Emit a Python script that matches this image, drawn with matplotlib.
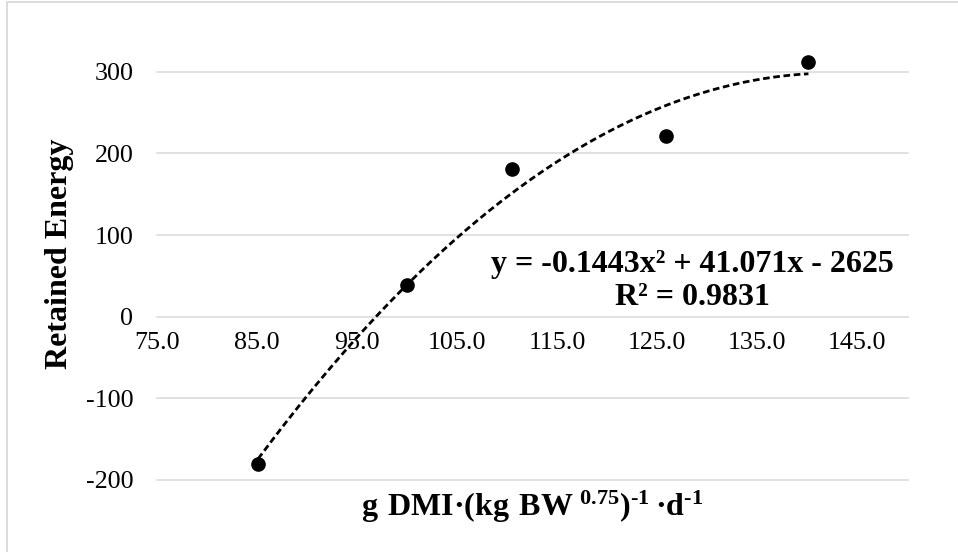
import numpy as np
import matplotlib
matplotlib.use("Agg")
import matplotlib.pyplot as plt
from matplotlib.patches import Rectangle

# values
dmi = [85.1, 100.0, 110.5, 125.9, 140.1]
retained_energy = [-180, 39, 181, 221, 312]
x_ticks = [75, 85, 95, 105, 115, 125, 135, 145]
y_ticks = [-200, -100, 0, 100, 200, 300]
equation = "y = -0.1443x² + 41.071x - 2625\nR² = 0.9831"

plt.rcParams["font.family"] = ["Liberation Serif", "DejaVu Serif"]
plt.rcParams["axes.unicode_minus"] = False
plt.rcParams["mathtext.fontset"] = "custom"
plt.rcParams["mathtext.rm"] = "Liberation Serif"
plt.rcParams["mathtext.bf"] = "Liberation Serif:bold"

W, H = 958, 552
fig = plt.figure(figsize=(W / 100, H / 100), dpi=100)
ax = fig.add_axes([157 / W, 1 - 480 / H, 750.5 / W, 408.3 / H])

# chart area border (cropped at right and bottom)
fig.patches.append(Rectangle((7 / W, -0.1), 1.2, 1.1 - 2 / H, transform=fig.transFigure,
                             fill=False, edgecolor="#d9d9d9", linewidth=1.3))

# gridlines
for v in y_ticks:
    ax.axhline(v, color="#d9d9d9", linewidth=1.1, zorder=0, clip_on=False)

# trendline (2nd order polynomial fit)
coef = np.polyfit(dmi, retained_energy, 2)
xs = np.linspace(dmi[0], dmi[-1], 200)
ax.plot(xs, np.polyval(coef, xs), color="black", linewidth=2.0,
        dashes=(2.4, 1.3), zorder=2, clip_on=False)

ax.plot(dmi, retained_energy, "o", color="black", markersize=9.5, zorder=3, clip_on=False)

ax.set_xlim(75, 150)
ax.set_ylim(-200, 300)
ax.set_xticks(x_ticks)
ax.set_xticklabels([f"{t:.1f}" for t in x_ticks])
ax.set_yticks(y_ticks)
ax.set_yticklabels([str(t) for t in y_ticks])
ax.tick_params(axis="both", length=0, labelsize=18.7)
ax.tick_params(axis="x", pad=11)
ax.tick_params(axis="y", pad=17)
ax.spines["bottom"].set_position(("data", 0))
for s in ax.spines.values():
    s.set_visible(False)
ax.patch.set_alpha(0)

ax.text(692 / W, 1 - 281 / H, equation, transform=fig.transFigure, ha="center",
        va="center", multialignment="center", fontsize=23, fontweight="bold",
        linespacing=1.15)

fig.text(59 / W, 1 - 254 / H, "Retained Energy", rotation=90, ha="center", va="center",
         fontsize=23, fontweight="bold")
fig.text(532 / W, 1 - 507 / H,
         r"$\mathbf{g\ DMI·(kg\ BW^{\ 0.75})^{‐1}\,·d^{‐1}}$",
         ha="center", va="center", fontsize=23)

fig.savefig("out.png", dpi=100)
